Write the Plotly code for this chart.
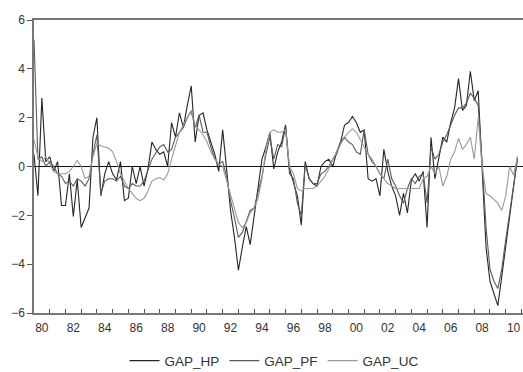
import plotly.graph_objects as go

start_year = 1980
gap_hp = [
    0.5, -1.2, 2.8, 0.2,     # 1980
    0.4, -0.2, 0.2, -1.6,    # 1981
    -1.6, -0.3, -2.05, -0.55,  # 1982
    -2.5, -2.1, -1.7, 1.2,   # 1983
    2.0, -1.2, -0.3, 0.2,    # 1984
    -0.3, -0.55, 0.2, -1.4,  # 1985
    -1.3, 0.0, -0.7, 0.0,    # 1986
    -0.8, -0.1, 1.0, 0.7,    # 1987
    0.5, 0.6, 0.0, 1.8,      # 1988
    1.2, 2.2, 1.6, 2.5,      # 1989
    3.3, 1.0, 2.1, 2.2,      # 1990
    1.5, 1.0, 0.5, -0.2,     # 1991
    1.5, -0.1, -1.8, -2.9,   # 1992
    -4.25, -3.3, -2.46, -3.2,  # 1993
    -2.0, -1.0, 0.3, 0.8,    # 1994
    1.4, -0.1, 0.6, 1.0,     # 1995
    1.7, -0.1, -0.6, -1.2,   # 1996
    -2.4, 0.2, -0.5, -0.7,   # 1997
    -0.8, 0.0, 0.2, 0.3,     # 1998
    0.0, 0.6, 1.0, 1.7,      # 1999
    1.8, 2.05, 1.8, 1.4,     # 2000
    1.5, -0.5, -0.6, -0.5,   # 2001
    -1.2, 0.7, -0.2, -0.8,   # 2002
    -1.2, -2.0, -1.1, -1.9,  # 2003
    -0.55, -0.3, -0.6, -0.2,  # 2004
    -2.5, 1.2, -0.5, 0.3,    # 2005
    1.2, 1.0, 1.8, 2.4,      # 2006
    3.6, 2.3, 2.5, 3.9,      # 2007
    2.7, 3.1, 0.0, -3.3,     # 2008
    -4.7, -5.2, -5.7, -4.5,  # 2009
    -3.3, -2.0, -0.8, 0.4,   # 2010
]
gap_pf = [
    5.2, 0.3, 0.4, 0.0,
    0.2, 0.0, -0.3, -0.4,
    -0.7, -0.6, -0.8, -0.5,
    -0.6, -0.8, -0.5, 0.5,
    1.3, -1.1, -0.6, -0.5,
    -0.5, -0.6, -0.4, -0.8,
    -0.9, -0.7, -0.8, -0.8,
    -0.6, -0.1, 0.3, 0.55,
    0.8, 0.9, 0.6, 0.7,
    1.2, 1.4, 1.6, 2.0,
    2.25, 1.6, 2.1, 1.4,
    1.4, 0.8, 0.3, 0.1,
    0.2, -0.4, -1.4, -2.1,
    -2.9, -2.7, -2.2, -1.8,
    -1.7, -1.0, -0.4, 0.5,
    1.2, 0.3, 0.9, 0.8,
    1.6, -0.3, -0.5, -1.5,
    -2.0, 0.1, -0.5, -0.7,
    -0.7, -0.3, -0.2, 0.0,
    0.3, 0.5, 1.0, 1.2,
    1.0, 0.9, 0.6, 0.5,
    1.5, 0.5, 0.2, 0.0,
    -0.3, -0.5, 0.3, -0.5,
    -0.8, -1.2, -1.5, -0.9,
    -0.5, -0.7, -0.4, -0.3,
    -1.5, 0.8, 0.3, 0.5,
    1.0, 1.3, 1.7, 2.1,
    2.4, 2.4, 2.6, 3.0,
    2.8, 2.5, 0.2, -2.5,
    -4.2, -4.7, -5.0, -4.2,
    -3.0, -1.8, -0.8, 0.3,
]
gap_uc = [
    1.1, 0.4, 0.2, 0.4,
    0.1, -0.2, -0.3, -0.3,
    -0.3, -0.2, 0.0, 0.25,
    0.0, -0.5, -0.4, 0.4,
    0.95, 0.85, 0.8, 0.75,
    0.6, 0.2, -0.3, -0.6,
    -0.9, -1.1, -1.3, -1.4,
    -1.3, -1.0, -0.6, -0.5,
    -0.45, -0.55, -0.3, 0.3,
    0.8, 1.4, 1.7, 2.0,
    2.3, 1.7, 1.5, 1.3,
    1.0, 0.6, 0.3, 0.1,
    0.0, -0.6, -1.2, -1.8,
    -2.3, -2.5, -2.3, -1.9,
    -1.7, -1.3, -0.5, 0.7,
    1.4, 1.5, 1.4, 1.4,
    1.5, 0.0, -0.3, -0.9,
    -1.0, -0.9, -0.9, -0.9,
    -0.8, -0.6, -0.4, -0.1,
    0.3, 0.6, 0.9, 1.2,
    1.4, 1.55, 1.4, 1.1,
    0.8, 0.5, 0.3, 0.0,
    -0.3, -0.5, -0.7, -0.8,
    -0.9, -0.9, -0.9, -0.9,
    -0.9, -0.9, -0.9, -0.5,
    -0.4, 0.0, -0.3, 0.0,
    -0.8, -0.4, 0.3, 0.6,
    1.15, 0.7, 0.9, 1.2,
    0.3, 2.0, 0.0, -1.1,
    -1.2, -1.35, -1.5, -1.8,
    -1.2, 0.0, -0.35, 0.4,
]

year_ticks = list(range(1980, 2012))
label_years = list(range(1980, 2011, 2))
label_text = [f"{y % 100:02d}" for y in label_years]

x = [start_year + i * 0.25 for i in range(len(gap_hp))]

fig = go.Figure()
fig.add_trace(go.Scatter(x=x, y=gap_hp, mode="lines", name="GAP_HP",
                         line=dict(color="#262626", width=1.1)))
fig.add_trace(go.Scatter(x=x, y=gap_pf, mode="lines", name="GAP_PF",
                         line=dict(color="#5a5a5a", width=1.1)))
fig.add_trace(go.Scatter(x=x, y=gap_uc, mode="lines", name="GAP_UC",
                         line=dict(color="#9a9a9a", width=1.1)))
# invisible trace to carry the label axis
fig.add_trace(go.Scatter(x=[1980, 2011], y=[None, None], xaxis="x2",
                         showlegend=False, hoverinfo="skip"))

xr = [1980, 2011.1]
fig.update_layout(
    width=523, height=372,
    margin=dict(l=34, r=0, t=20, b=59, autoexpand=False),
    paper_bgcolor="white", plot_bgcolor="white",
    font=dict(family="Liberation Sans, Arial, sans-serif", size=12, color="#333333"),
    showlegend=True,
    legend=dict(orientation="h", xref="container", x=0.524, xanchor="center",
                yref="container", y=0.03, yanchor="middle",
                font=dict(size=13.5, color="#333333"), itemwidth=30,
                bgcolor="rgba(0,0,0,0)"),
    xaxis=dict(range=xr, tickvals=year_ticks, showticklabels=False,
               ticks="inside", ticklen=4, tickcolor="#555555",
               showline=True, linecolor="#777777", linewidth=1.5, mirror=True,
               showgrid=False, zeroline=False, automargin=False),
    xaxis2=dict(range=xr, overlaying="x", side="bottom", anchor="y",
                tickvals=[y + 0.5 for y in label_years], ticktext=label_text,
                ticks="", showline=False, showgrid=False, zeroline=False,
                automargin=False, ticklabeloverflow="allow",
                ticklabelstandoff=6, tickfont=dict(size=12, color="#333333")),
    yaxis=dict(range=[-6, 6], tickvals=[-6, -4, -2, 0, 2, 4, 6],
               ticks="outside", ticklen=5, tickcolor="#555555",
               showline=True, linecolor="#777777", linewidth=1.5,
               showgrid=False, zeroline=True, zerolinecolor="#111111", zerolinewidth=1,
               automargin=False,
               tickfont=dict(size=12, color="#333333")),
)
fig.write_html(
    "out.html",
    config={"displayModeBar": False},
    post_script="document.body.style.margin='0';document.body.style.overflow='hidden';",
)
